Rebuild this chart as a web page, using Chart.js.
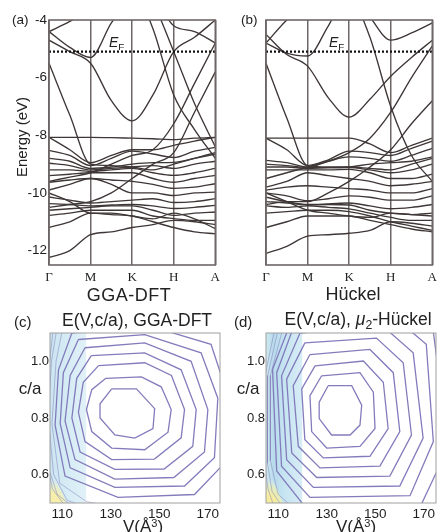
<!DOCTYPE html>
<html><head><meta charset="utf-8">
<script src="https://cdn.jsdelivr.net/npm/chart.js@4.4.0/dist/chart.umd.min.js"></script>
<style>
html,body{margin:0;padding:0;background:#fff;overflow:hidden;}
#wrap{position:relative;width:437px;height:532px;overflow:hidden;font-family:"Liberation Sans",Arial,sans-serif;color:#222;}
canvas{position:absolute;}
.t{position:absolute;white-space:nowrap;line-height:1;}
.cc{transform:translate(-50%,-50%);}
.cl{transform:translateY(-50%);}
sub{font-size:70%;vertical-align:-0.3em;}
sup{font-size:65%;vertical-align:0.45em;}
</style></head><body><div id="wrap">
<canvas id="ca" width="225" height="300" style="left:0;top:0;width:225px;height:300px"></canvas>
<canvas id="cb" width="220" height="300" style="left:222px;top:0;width:220px;height:300px"></canvas>
<canvas id="cc" width="225" height="222" style="left:0;top:310px;width:225px;height:222px"></canvas>
<canvas id="cd" width="220" height="222" style="left:222px;top:310px;width:220px;height:222px"></canvas>

<div class="t cl" style="left:12px;top:20px;font-size:13.5px">(a)</div>
<div class="t cl" style="left:241px;top:20px;font-size:13.5px">(b)</div>
<div class="t cc" style="left:21px;top:137px;font-size:15px;transform:translate(-50%,-50%) rotate(-90deg)">Energy (eV)</div>
<div class="t cl" style="left:109px;top:43px;font-size:14px"><i>E</i><sub>F</sub></div>
<div class="t cl" style="left:329px;top:43px;font-size:14px"><i>E</i><sub>F</sub></div>
<div class="t cc" style="left:129px;top:295px;font-size:18px;letter-spacing:0.5px">GGA-DFT</div>
<div class="t cc" style="left:353px;top:294px;font-size:18px">Hückel</div>
<div class="t cl" style="left:14px;top:321px;font-size:15px">(c)</div>
<div class="t cc" style="left:137px;top:321px;font-size:17.5px">E(V,c/a), GGA-DFT</div>
<div class="t cl" style="left:234px;top:321px;font-size:15px">(d)</div>
<div class="t cc" style="left:358px;top:321px;font-size:17.5px">E(V,c/a), <i>μ</i><sub>2</sub>-Hückel</div>
<div class="t cc" style="left:30px;top:388px;font-size:17px">c/a</div>
<div class="t cc" style="left:248px;top:388px;font-size:17px">c/a</div>
<div class="t cc" style="left:143px;top:526px;font-size:17px">V(Å<sup>3</sup>)</div>
<div class="t cc" style="left:356px;top:526px;font-size:17px">V(Å<sup>3</sup>)</div>
</div>
<script>
// ---------- band structure axes ----------
const kPos = [0, 0.5, 1, 1.5, 2, 2.5, 3, 3.5, 4];
const kTickPos = [0, 1, 2, 3, 4];
const kTickLabels = ['Γ', 'M', 'K', 'H', 'A'];
const energyTicks = [-4, -6, -8, -10, -12];
const fermiLevel = -5.1;

// ---------- (a) GGA-DFT bands (eV at kPos) ----------
const ggaU1 = [-4.4, -4.05, -3.6, -3.3, -3.2, -3.2, -3.2, -3.2, -3.2];
const ggaU2 = [-4.4, -4.95, -5.3, -4.1, -3.2, -3.0, -3.0, -3.0, -3.0];
const ggaU3 = [-4.7, -5.1, -5.5, -6.8, -7.5, -6.6, -5.1, -4.6, -4.0];
const ggaU4 = [-3.0, -3.0, -3.0, -3.0, -3.0, -3.2, -4.2, -4.4, -4.8];
const ggaU5 = [-2.5, -2.5, -2.5, -2.5, -2.8, -4.3, -6.6, -7.8, -8.8];
const ggaU6 = [-2.5, -2.5, -2.5, -2.5, -2.5, -3.4, -5.1, -6.9, -8.4];
const ggaU7 = [-9.6, -9.45, -9.3, -9.0, -8.7, -8.5, -7.6, -6.2, -4.8];
const ggaU8 = [-5.5, -7.3, -9.0, -9.05, -9.1, -9.2, -9.0, -8.8, -8.6];
const ggaU9 = [-10.5, -10.4, -10.3, -10.0, -9.5, -9.0, -8.6, -7.2, -5.8];
const ggaL1 = [-8.07, -8.07, -8.07, -8.08, -8.1, -8.12, -8.15, -8.1, -8.07];
const ggaL2 = [-8.07, -8.5, -8.95, -8.7, -8.5, -8.5, -8.35, -8.2, -8.07];
const ggaL3 = [-8.52, -8.7, -9.05, -8.8, -8.55, -8.65, -8.77, -8.55, -8.42];
const ggaL4 = [-8.8, -8.9, -9.15, -9.1, -9.0, -8.95, -8.94, -8.8, -8.65];
const ggaL5 = [-8.97, -9.05, -9.2, -9.15, -9.1, -9.05, -9.15, -9.0, -8.9];
const ggaL6 = [-9.2, -9.2, -9.25, -9.2, -9.15, -9.3, -9.39, -9.3, -9.15];
const ggaL7 = [-9.4, -9.35, -9.3, -9.3, -9.3, -9.5, -9.63, -9.5, -9.39];
const ggaL8 = [-9.63, -9.55, -9.5, -9.55, -9.6, -9.7, -9.84, -9.8, -9.68];
const ggaL9 = [-9.9, -9.7, -9.5, -9.7, -10.0, -10.0, -10.09, -10.0, -9.97];
const ggaL10 = [-10.14, -10.25, -10.35, -10.3, -10.25, -10.2, -10.33, -10.3, -10.2];
const ggaL11 = [-10.37, -10.4, -10.45, -10.42, -10.4, -10.45, -10.54, -10.5, -10.43];
const ggaL12 = [-10.6, -10.55, -10.5, -10.45, -10.45, -10.6, -10.78, -10.7, -10.66];
const ggaL13 = [-10.78, -10.7, -10.6, -10.6, -10.6, -10.8, -10.89, -10.95, -10.95];
const ggaL14 = [-10.0, -10.3, -10.7, -10.7, -10.8, -10.9, -10.7, -10.9, -11.24];
const ggaL15 = [-11.2, -11.0, -10.7, -10.75, -10.8, -11.0, -11.2, -11.35, -11.42];
const ggaL16 = [-12.24, -12.0, -11.45, -11.35, -11.2, -11.1, -10.95, -11.0, -11.1];

// ---------- (b) Hückel bands ----------
const hU1 = [-4.8, -4.0, -3.4, -3.0, -3.0, -3.0, -3.0, -3.0, -3.0];
const hU2 = [-4.8, -5.15, -5.25, -4.2, -3.0, -3.0, -3.0, -3.0, -3.0];
const hU3 = [-4.5, -5.2, -5.6, -6.7, -7.37, -6.75, -5.95, -5.3, -4.7];
const hU4 = [-3.0, -3.0, -3.0, -3.0, -3.0, -3.9, -4.7, -4.45, -4.1];
const hU5 = [-2.5, -2.5, -2.5, -2.5, -3.0, -4.6, -7.0, -8.7, -9.6];
const hU7 = [-9.5, -9.3, -9.1, -8.9, -8.6, -8.1, -7.2, -6.0, -4.9];
const hU8 = [-5.5, -7.4, -9.05, -9.1, -9.1, -9.15, -9.2, -9.0, -8.8];
const hU9 = [-10.4, -10.3, -10.3, -10.0, -9.6, -9.1, -8.5, -7.6, -6.8];
const hL1 = [-8.1, -8.1, -8.1, -8.1, -8.1, -8.3, -8.6, -8.35, -8.1];
const hL2 = [-8.1, -8.5, -9.05, -8.85, -8.55, -8.6, -8.7, -8.45, -8.2];
const hL3 = [-8.87, -8.95, -9.1, -8.9, -8.75, -8.8, -8.9, -8.7, -8.45];
const hL4 = [-9.0, -9.05, -9.12, -9.12, -9.1, -9.0, -8.95, -8.9, -8.75];
const hL5 = [-9.1, -9.1, -9.15, -9.12, -9.12, -9.2, -9.3, -9.2, -9.0];
const hL6 = [-9.2, -9.2, -9.2, -9.2, -9.18, -9.3, -9.5, -9.5, -9.35];
const hL7 = [-9.8, -9.6, -9.3, -9.4, -9.5, -9.6, -9.75, -9.7, -9.6];
const hL8 = [-9.9, -9.8, -9.75, -9.8, -9.85, -9.9, -10.0, -10.0, -9.85];
const hL9 = [-10.0, -10.1, -10.27, -10.2, -10.1, -10.15, -10.25, -10.25, -10.1];
const hL10 = [-10.15, -10.3, -10.4, -10.38, -10.35, -10.45, -10.55, -10.5, -10.4];
const hL11 = [-10.3, -10.35, -10.42, -10.4, -10.42, -10.6, -10.7, -10.75, -10.7];
const hL12 = [-10.45, -10.5, -10.45, -10.5, -10.55, -10.7, -10.85, -10.95, -10.95];
const hL13 = [-10.7, -10.65, -10.6, -10.6, -10.65, -10.8, -11.0, -11.15, -11.3];
const hL14 = [-10.0, -10.3, -10.6, -10.7, -10.8, -10.85, -10.7, -10.75, -10.8];
const hL15 = [-11.2, -11.0, -10.8, -10.8, -10.8, -10.95, -11.1, -11.25, -11.35];
const hL16 = [-12.1, -11.85, -11.5, -11.45, -11.4, -11.3, -11.0, -11.05, -11.15];

// ---------- contour axes ----------
const vTicks = [110, 130, 150, 170];
const caTicks = [0.6, 0.8, 1.0];

// ---------- (c) GGA-DFT contour rings [V, c/a] ----------
const cRing1 = [[130.4,0.903],[140.6,0.903],[148.1,0.833],[147.4,0.763],[139.9,0.729],[131.7,0.74],[125.6,0.80],[125.6,0.85],[130.4,0.903]];
const cRing2 = [[128,0.94],[142.6,0.945],[150.8,0.91],[154.9,0.83],[153.6,0.75],[144,0.688],[130.4,0.694],[122.2,0.752],[120,0.83],[122.2,0.90],[128,0.94]];
const cRing3 = [[125,0.985],[144,0.995],[155,0.95],[160.4,0.83],[159,0.73],[148,0.655],[130.4,0.653],[119.4,0.717],[116.7,0.82],[118.7,0.926],[125,0.985]];
const cRing4 = [[122,1.02],[144,1.03],[159,0.97],[165.2,0.83],[163.8,0.70],[152,0.62],[131.7,0.619],[117.4,0.68],[114,0.80],[116,0.94],[122,1.02]];
const cRing5 = [[119.4,1.048],[144,1.065],[163.1,1.0],[170,0.83],[168.6,0.68],[156,0.59],[131.7,0.584],[115.3,0.653],[111.2,0.79],[113.3,0.95],[119.4,1.048]];
const cRing6 = [[116.7,1.077],[144,1.094],[167.2,1.03],[174.1,0.87],[172.7,0.66],[160.4,0.56],[131.7,0.555],[113.3,0.624],[109.2,0.78],[110.5,0.96],[116.7,1.077]];
const cRing7 = [[114,1.10],[144,1.13],[171.3,1.06],[178.2,0.88],[176.8,0.64],[164.5,0.53],[133,0.52],[111.2,0.595],[107.1,0.775],[108.5,0.97],[114,1.10]];
const cRing8 = [[111,1.15],[107.5,1.0],[105.8,0.78],[109,0.57],[120,0.505],[133,0.485],[170,0.49]];
const cRing9 = [[108.5,1.15],[105.6,1.0],[104.3,0.8],[106.5,0.6],[112,0.51],[125,0.47]];
const cRing10 = [[106.8,1.15],[104.2,0.95],[104.5,0.62],[108,0.53],[117,0.47]];
const cRing11 = [[105.4,1.15],[103.5,0.95],[103.8,0.64],[106,0.55],[112,0.48]];
const cBlueBand = [[105,1.1],[120,1.1]];
const cYellowCorner = [[105,0.62],[112,0.5]];

// ---------- (d) μ2-Hückel contour rings [V, c/a] ----------
const dRing1 = [[130.6,0.914],[140.3,0.914],[144.4,0.845],[143.7,0.775],[139.6,0.74],[132,0.74],[126.9,0.798],[126.9,0.856],[130.6,0.914]];
const dRing2 = [[127.9,0.949],[143.7,0.96],[149.2,0.891],[149.9,0.763],[143.7,0.70],[130,0.694],[123.8,0.752],[123.1,0.879],[127.9,0.949]];
const dRing3 = [[125.2,0.984],[145.1,1.001],[153.3,0.926],[155.3,0.763],[147.8,0.665],[128.6,0.659],[121,0.723],[119.7,0.903],[125.2,0.984]];
const dRing4 = [[123.1,1.024],[147.8,1.042],[157.4,0.96],[160.1,0.752],[151.9,0.63],[127.2,0.624],[118.3,0.70],[116.2,0.914],[123.1,1.024]];
const dRing5 = [[121,1.065],[150.5,1.082],[161.5,0.995],[164.9,0.74],[156,0.595],[125.9,0.59],[115.6,0.677],[113.5,0.937],[121,1.065]];
const dRing6 = [[119,1.1],[153.3,1.123],[165.6,1.03],[169.7,0.729],[160.1,0.56],[124.5,0.555],[113.5,0.653],[111.4,0.949],[119,1.1]];
const dRing7 = [[116.9,1.134],[160,1.14],[171,1.06],[173.9,0.717],[164.3,0.526],[123.1,0.52],[111.4,0.63],[109.4,0.96],[116.9,1.134]];
const dRing8 = [[115.6,1.146],[173.8,1.111],[177.3,0.879],[177.3,0.647],[168.4,0.485],[121.7,0.48],[109.4,0.613],[107.7,0.972],[115.6,1.146]];
const dRing9 = [[113,1.15],[106.8,0.95],[106.8,0.65],[110,0.53],[118,0.47]];
const dRing10 = [[111,1.15],[105.7,0.95],[105.6,0.64],[107.5,0.54],[113,0.47]];
const dRing11 = [[109.5,1.15],[104.6,0.95],[104.5,0.64],[105.8,0.55],[109,0.47]];
const dBlueBand = [[105,1.1],[120,1.1]];
const dYellowCorner = [[105,0.64],[112,0.5]];

// ---------- helpers ----------
const SANS = '"Liberation Sans", Arial, sans-serif';
const SERIF = '"Liberation Serif", "Times New Roman", serif';

function framePlugin(color, w) {
  return { id: 'frame', afterDatasetsDraw(chart) {
    const { ctx, chartArea: a } = chart;
    ctx.save(); ctx.strokeStyle = color; ctx.lineWidth = w;
    ctx.strokeRect(a.left, a.top, a.right - a.left, a.bottom - a.top);
    ctx.restore();
  } };
}

function makeBandChart(id, bands, showY, yWidth, padRight) {
  const datasets = [{
    data: [{ x: 0, y: fermiLevel }, { x: 4, y: fermiLevel }],
    borderColor: '#111', borderWidth: 2.3, borderDash: [2, 2], pointRadius: 0
  }];
  bands.forEach(b => datasets.push({
    data: kPos.map((k, i) => ({ x: k, y: b[i] })),
    borderColor: '#3f3737', borderWidth: 1.35, pointRadius: 0,
    cubicInterpolationMode: 'monotone', fill: false
  }));
  return new Chart(document.getElementById(id), {
    type: 'line',
    data: { datasets },
    options: {
      responsive: false, animation: false, devicePixelRatio: 1,
      layout: { padding: { top: 20, right: padRight, left: 0, bottom: 0 } },
      plugins: { legend: { display: false }, tooltip: { enabled: false } },
      scales: {
        x: {
          type: 'linear', min: 0, max: 4,
          afterBuildTicks: s => { s.ticks = kTickPos.map(v => ({ value: v })); },
          afterFit: s => { s.height = 35; },
          ticks: { callback: v => kTickLabels[kTickPos.indexOf(v)], font: { family: SERIF, size: 13 },
                   color: '#222', padding: 5, maxRotation: 0, autoSkip: false },
          grid: { display: true, color: '#6e6666', lineWidth: 1.5, drawTicks: false },
          border: { display: false }
        },
        y: {
          type: 'linear', min: -12.5, max: -4,
          afterBuildTicks: s => { s.ticks = energyTicks.map(v => ({ value: v })); },
          afterFit: s => { s.width = yWidth; },
          ticks: { display: showY, font: { family: SANS, size: 13.5 }, color: '#1e1e1e', padding: 2 },
          grid: { display: false, drawTicks: false },
          border: { display: false }
        }
      }
    },
    plugins: [framePlugin('#6e6666', 1.6)]
  });
}

function bandGradient(stops) {
  return (ctx) => {
    const chart = ctx.chart;
    if (!chart.chartArea) return stops[0][1];
    const sx = chart.scales.x;
    const g = chart.ctx.createLinearGradient(sx.getPixelForValue(105), 0, sx.getPixelForValue(120), 0);
    stops.forEach(s => g.addColorStop(s[0], s[1]));
    return g;
  };
}
function cornerGradient(inner, mid) {
  return (ctx) => {
    const chart = ctx.chart; const a = chart.chartArea;
    if (!a) return inner;
    const g = chart.ctx.createRadialGradient(a.left, a.bottom, 0, a.left, a.bottom, 26);
    g.addColorStop(0, inner); g.addColorStop(0.35, inner); g.addColorStop(0.7, mid); g.addColorStop(1, 'rgba(215,236,244,0)');
    return g;
  };
}

function makeContourChart(id, rings, outer, blue, blueStops, yellow, yellowInner, yellowMid, yWidth, padRight) {
  const datasets = [
    { data: blue.map(p => ({ x: p[0], y: p[1] })), fill: 'start', borderWidth: 0, pointRadius: 0,
      backgroundColor: bandGradient(blueStops), order: 20 },
    { data: yellow.map(p => ({ x: p[0], y: p[1] })), fill: 'start', borderWidth: 0, pointRadius: 0,
      backgroundColor: cornerGradient(yellowInner, yellowMid), order: 19 }
  ];
  rings.forEach(r => datasets.push({
    data: r.map(p => ({ x: p[0], y: p[1] })), borderColor: '#837cbc', borderWidth: 1.3,
    pointRadius: 0, fill: false, tension: 0, order: 1
  }));
  outer.forEach(r => datasets.push({
    data: r.map(p => ({ x: p[0], y: p[1] })), borderColor: 'rgba(124,116,182,0.5)', borderWidth: 0.9,
    pointRadius: 0, fill: false, tension: 0, order: 2
  }));
  return new Chart(document.getElementById(id), {
    type: 'line',
    data: { datasets },
    options: {
      responsive: false, animation: false, devicePixelRatio: 1,
      layout: { padding: { top: 23, right: padRight, left: 0, bottom: 0 } },
      plugins: { legend: { display: false }, tooltip: { enabled: false } },
      scales: {
        x: {
          type: 'linear', min: 105, max: 175,
          afterBuildTicks: s => { s.ticks = vTicks.map(v => ({ value: v })); },
          afterFit: s => { s.height = 29; },
          ticks: { font: { family: SANS, size: 13.5 }, color: '#1e1e1e', padding: 3, maxRotation: 0, autoSkip: false },
          grid: { display: false, drawTicks: false },
          border: { display: false }
        },
        y: {
          type: 'linear', min: 0.5, max: 1.1,
          afterBuildTicks: s => { s.ticks = caTicks.map(v => ({ value: v })); },
          afterFit: s => { s.width = yWidth; },
          ticks: { callback: v => v.toFixed(1), font: { family: SANS, size: 13 }, color: '#1e1e1e', padding: 1 },
          grid: { display: false, drawTicks: false },
          border: { display: false }
        }
      }
    },
    plugins: [framePlugin('#a0a0a0', 1)]
  });
}

makeBandChart('ca', [ggaU1, ggaU2, ggaU3, ggaU4, ggaU5, ggaU6, ggaU7, ggaU8, ggaU9,
  ggaL1, ggaL2, ggaL3, ggaL4, ggaL5, ggaL6, ggaL7, ggaL8, ggaL9, ggaL10, ggaL11, ggaL12,
  ggaL13, ggaL14, ggaL15, ggaL16], true, 49, 5);
makeBandChart('cb', [hU1, hU2, hU3, hU4, hU5, hU7, hU8, hU9,
  hL1, hL2, hL3, hL4, hL5, hL6, hL7, hL8, hL9, hL10, hL11, hL12, hL13, hL14, hL15, hL16], false, 44, 5);

makeContourChart('cc', [cRing1, cRing2, cRing3, cRing4, cRing5, cRing6, cRing7],
  [cRing8, cRing9, cRing10, cRing11],
  cBlueBand, [[0, 'rgb(203,229,241)'], [0.5, 'rgb(214,236,245)'], [1, 'rgb(226,241,248)']],
  cYellowCorner, 'rgb(246,238,170)', 'rgb(226,240,212)', 50, 5);
makeContourChart('cd', [dRing1, dRing2, dRing3, dRing4, dRing5, dRing6, dRing7, dRing8],
  [dRing9, dRing10, dRing11],
  dBlueBand, [[0, 'rgb(206,234,240)'], [0.2, 'rgb(184,219,236)'], [0.5, 'rgb(198,228,241)'], [1, 'rgb(216,237,246)']],
  dYellowCorner, 'rgb(246,236,160)', 'rgb(220,237,205)', 44, 6);
</script>
</body></html>
